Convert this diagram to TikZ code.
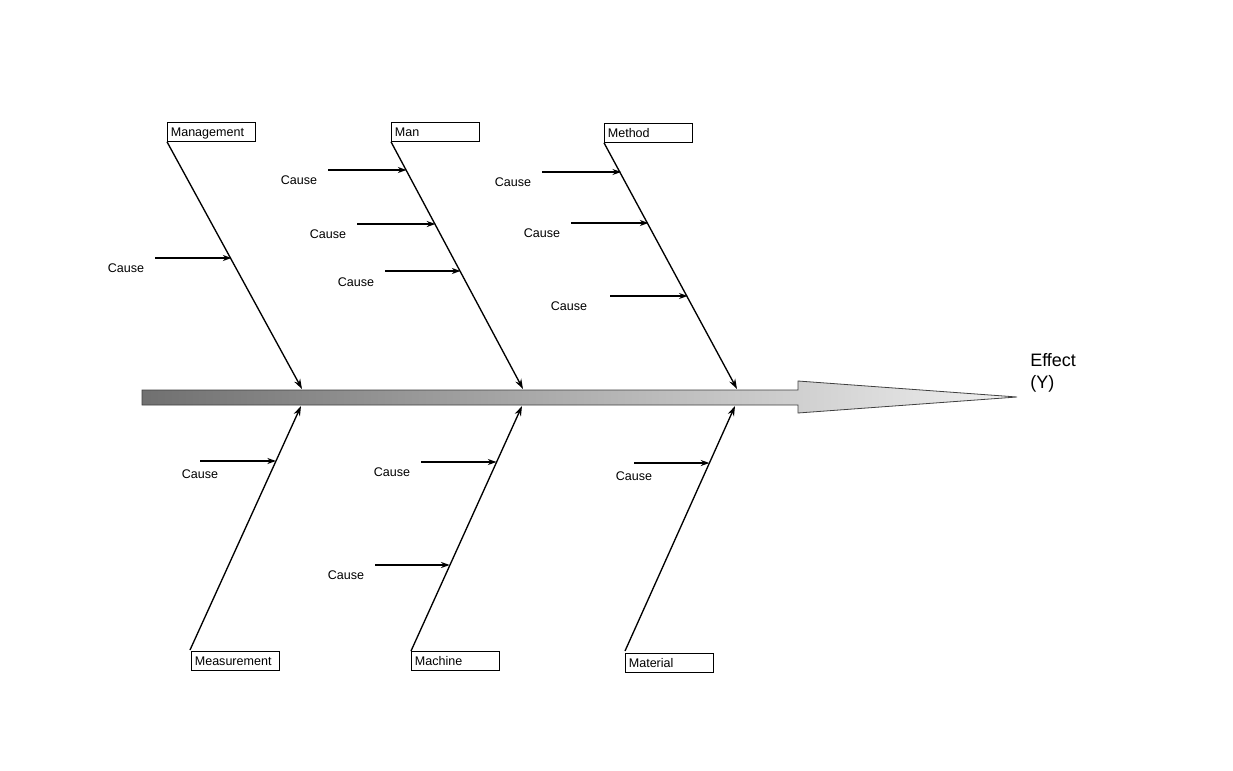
\documentclass[tikz,border=0pt]{standalone}
\usepackage{fontspec}
\setmainfont{Liberation Sans}
\usetikzlibrary{arrows.meta}
\begin{document}
\begin{tikzpicture}[x=0.75pt,y=-0.75pt,
  catbox/.style={draw=black,line width=0.6pt,fill=white,anchor=north west,
    minimum width=66pt,minimum height=14.25pt,inner xsep=2.6pt,inner ysep=0pt,
    text width=60.8pt,text height=8.2pt,text depth=1.6pt,align=left,
    font=\fontsize{9.4pt}{11pt}\selectfont},
  spine/.style={line width=1pt,-{Stealth[length=7.5pt,width=5pt]}},
  causearrow/.style={line width=1pt,-{Stealth[length=6.5pt,width=4.5pt]}},
  causelbl/.style={font=\fontsize{9.4pt}{11pt}\selectfont,inner sep=0pt}]
\useasboundingbox (0,0) rectangle (1233,771);
\fill[white] (0,0) rectangle (1233,771);
% main bar arrow
\shade[left color=black!56,right color=black!6,draw=black!75,line width=0.6pt]
  (142,390) -- (798,390) -- (798,381) -- (1017,397) -- (798,413) -- (798,405) -- (142,405) -- cycle;
\node[anchor=west,font=\fontsize{13.5pt}{16pt}\selectfont,align=left,inner sep=0pt] (effect) at (1030,373) {Effect\\(Y)};
% category boxes
\node[catbox] (mgmt) at (167,122) {Management};
\node[catbox] (man) at (391,122) {Man};
\node[catbox] (meth) at (604,123) {Method};
\node[catbox] (meas) at (191,651) {Measurement};
\node[catbox] (mach) at (411,651) {Machine};
\node[catbox] (matl) at (625,653) {Material};
% spine tips on bar
\coordinate (tMgmt) at (302,389);
\coordinate (tMan) at (523,389);
\coordinate (tMeth) at (737,389);
\coordinate (tMeas) at (301,406);
\coordinate (tMach) at (522,406);
\coordinate (tMatl) at (735,406);
\draw[spine] (mgmt.south west) -- (tMgmt);
\draw[spine] (man.south west) -- (tMan);
\draw[spine] (meth.south west) -- (tMeth);
\draw[spine] ([xshift=-0.75pt,yshift=0.75pt]meas.north west) -- (tMeas);
\draw[spine] (mach.north west) -- (tMach);
\draw[spine] ([yshift=1.5pt]matl.north west) -- (tMatl);
% cause arrows
\foreach \n/\sx/\ex/\y/\lx/\ly in {
  a/155/231.5/258/126/268,
  b/328/406.5/170/299/180,
  c/357/435.4/224/328/234,
  d/385/460.5/271/356/282,
  e/542/621.1/172/513/182,
  f/571/648.5/223/542/233,
  g/610/687.6/296/569/306,
  h/200/276/461/200/474,
  i/421/496.5/462/392/472,
  j/375/449.7/565/346/575,
  k/634/709.4/463/634/476}{
  \coordinate (s\n) at (\sx,\y);
  \coordinate (e\n) at (\ex,\y);
  \draw[causearrow] (s\n) -- (e\n);
  \node[causelbl] (l\n) at (\lx,\ly) {Cause};
}
\end{tikzpicture}
\end{document}
